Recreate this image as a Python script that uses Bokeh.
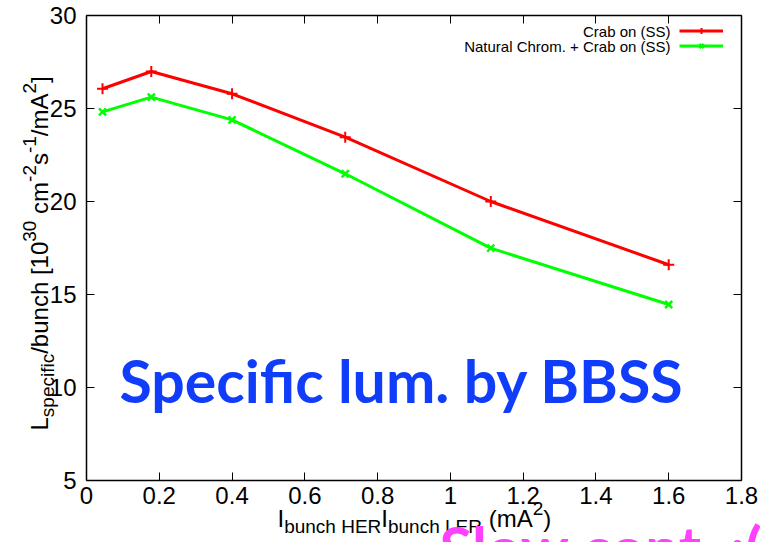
import numpy as np
from bokeh.plotting import figure
from bokeh.models import Range1d, Label, Legend, LegendItem, LinearAxis
from bokeh.embed import file_html
from bokeh.resources import INLINE

# valores
corriente = [0.044, 0.178, 0.400, 0.711, 1.111, 1.600]
lum_crab = [26.06, 26.99, 25.79, 23.46, 20.00, 16.60]
lum_crom_crab = [24.82, 25.61, 24.39, 21.49, 17.49, 14.46]
nombres = ["Crab on (SS)", "Natural Chrom. + Crab on (SS)"]

ticks_x = [0, 0.2, 0.4, 0.6, 0.8, 1, 1.2, 1.4, 1.6, 1.8]
etiquetas_x = ["0", "0.2", "0.4", "0.6", "0.8", "1", "1.2", "1.4", "1.6", "1.8"]
ticks_y = [5, 10, 15, 20, 25, 30]
x_min, x_max = 0, 1.8
y_min, y_max = 5, 30

titulo = "Specific lum. by BBSS"
nota = "Slow cont. :("

# pedazos de las etiquetas de los ejes: 0 normal, -1 subindice, 1 superindice
eje_y = [("L", 0), ("specific", -1), ("/bunch [10", 0), ("30", 1), (" cm", 0),
         ("-2", 1), ("s", 0), ("-1", 1), ("/mA", 0), ("2", 1), ("]", 0)]
eje_x = [("I", 0), ("bunch HER", -1), ("I", 0), ("bunch LER", -1),
         (" (mA", 0), ("2", 1), (")", 0)]

# anchos de Liberation Sans (milesimas de em)
ANCHO = {" ": 278, "(": 333, ")": 333, "+": 584, "-": 333, ".": 278, "/": 278,
         "[": 278, "]": 278, "A": 667, "E": 667, "H": 722, "I": 278, "L": 556,
         "R": 722, "S": 667, "a": 556, "b": 556, "c": 500, "e": 556, "f": 278,
         "h": 556, "i": 222, "m": 833, "n": 556, "p": 556, "s": 500, "u": 556}
for d in "0123456789":
    ANCHO[d] = 556

# tamano de la figura y caja de la grafica en pixeles
W, H = 764, 542
izq, der, arriba, abajo = 86, 741, 15, 480


def ancho(texto, tam):
    return sum(ANCHO[c] for c in texto) * tam / 1000


def ajuste(tam):
    # la linea base "alphabetic" sale un poco baja, se corrige a ojo
    return 0.33 * tam


def etiqueta_compuesta(p, piezas, x0, y0, vertical):
    pos = 0
    for texto, tipo in piezas:
        tam = 24 if tipo == 0 else 19
        desp = {0: 0, -1: -6, 1: 12}[tipo] + ajuste(tam)
        if texto.startswith(" "):
            pos += ancho(" ", tam)
            texto = texto.lstrip()
        if vertical:
            x, y, ang = x0 - desp, y0 + pos, np.pi / 2
        else:
            x, y, ang = x0 + pos, y0 + desp, 0
        p.add_layout(Label(x=x, y=y, x_units="screen", y_units="screen", text=texto,
                           angle=ang, text_font="Liberation Sans", text_font_size=f"{tam}px",
                           text_baseline="alphabetic", text_align="left", text_color="black"))
        pos += ancho(texto, tam)


ux = (x_max - x_min) / (der - izq)
uy = (y_max - y_min) / (abajo - arriba)
p = figure(width=W, height=H,
           x_range=Range1d(x_min - izq * ux, x_max + (W - der) * ux),
           y_range=Range1d(y_min - (H - abajo) * uy, y_max + arriba * uy),
           x_axis_location=None, y_axis_location=None,
           output_backend="svg", toolbar_location=None, min_border=0)
p.grid.visible = False
p.outline_line_color = None
p.background_fill_color = "white"
p.border_fill_color = "white"


def eje(lugar, donde, ticks, limites, con_texto):
    a = LinearAxis(fixed_location=donde, bounds=limites, ticker=ticks,
                   major_tick_in=8, major_tick_out=0, minor_tick_line_color=None,
                   axis_line_color="black", axis_line_width=1.5,
                   major_tick_line_color="black", major_tick_line_width=1,
                   major_label_text_font="Liberation Sans",
                   major_label_text_font_size="24px")
    if con_texto:
        a.major_label_text_color = "black"
    else:
        a.major_label_text_color = None
    p.add_layout(a, lugar)
    return a


ex = eje("below", y_min, ticks_x, (x_min, x_max), True)
ex.major_label_overrides = dict(zip(ticks_x, etiquetas_x))
ex.major_label_standoff = 6
ey = eje("left", x_min, ticks_y, (y_min, y_max), True)
ey.major_label_standoff = 10
eje("above", y_max, ticks_x, (x_min, x_max), False)
eje("right", x_max, ticks_y, (y_min, y_max), False)

l1 = p.line(corriente, lum_crab, line_color="#ff0000", line_width=3)
s1 = p.scatter(corriente, lum_crab, marker="cross", size=11, line_color="#ff0000", line_width=2)
l2 = p.line(corriente, lum_crom_crab, line_color="#00ff00", line_width=3)
s2 = p.scatter(corriente, lum_crom_crab, marker="x", size=10, line_color="#00ff00", line_width=2.5)

leyenda = Legend(items=[LegendItem(label="", renderers=[l1, s1]),
                        LegendItem(label="", renderers=[l2, s2])],
                 location=(679, 489), glyph_width=44, glyph_height=15, label_height=15,
                 label_width=0, label_standoff=0, spacing=0, padding=0, margin=0,
                 border_line_color=None, background_fill_alpha=0)
p.add_layout(leyenda)
for i, nombre in enumerate(nombres):
    p.add_layout(Label(x=670, y=506 - 15 * i + ajuste(15), x_units="screen", y_units="screen",
                       text=nombre, text_font="Liberation Sans", text_font_size="15px",
                       text_align="right", text_baseline="alphabetic", text_color="black"))

etiqueta_compuesta(p, eje_y, 47, 112, True)
etiqueta_compuesta(p, eje_x, 277, 16, False)

p.add_layout(Label(x=119, y=143 + ajuste(59), x_units="screen", y_units="screen", text=titulo,
                   text_font="Lato", text_font_style="bold", text_font_size="59px",
                   text_color="#0f3dfa", text_baseline="alphabetic"))
p.add_layout(Label(x=439, y=-24 + ajuste(60), x_units="screen", y_units="screen", text=nota,
                   text_font="Lato", text_font_style="bold", text_font_size="60px",
                   text_color="#ff40ff", text_baseline="alphabetic"))

open("out.html", "w").write(file_html(p, INLINE))
